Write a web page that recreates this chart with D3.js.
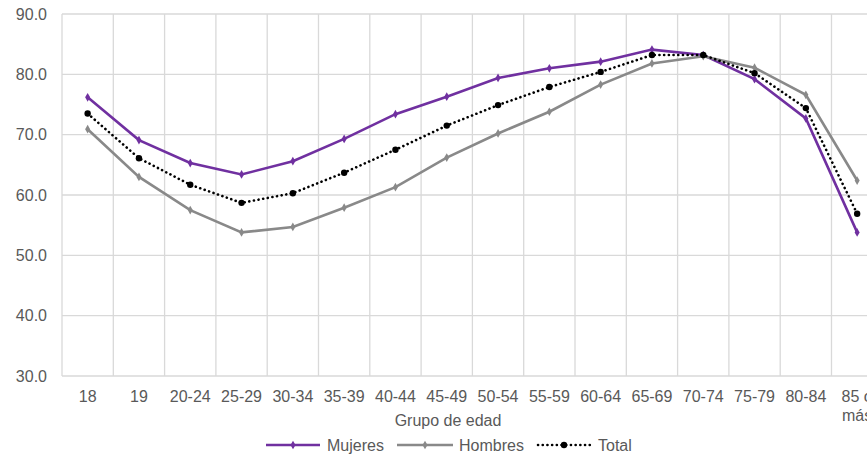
<!DOCTYPE html>
<html><head><meta charset="utf-8">
<script src="https://cdn.jsdelivr.net/npm/d3@7"></script>
<style>html,body{margin:0;padding:0;background:#fff;overflow:hidden}</style>
</head><body>
<script>
const categories = ["18","19","20-24","25-29","30-34","35-39","40-44","45-49","50-54","55-59","60-64","65-69","70-74","75-79","80-84","85 o más"];
const mujeres = [76.2,69.1,65.3,63.4,65.6,69.3,73.4,76.3,79.4,81.0,82.1,84.1,83.2,79.2,72.7,53.8];
const hombres = [70.9,63.0,57.5,53.8,54.7,57.9,61.3,66.2,70.2,73.8,78.3,81.8,83.0,81.1,76.6,62.4];
const total   = [73.5,66.1,61.7,58.7,60.3,63.7,67.5,71.5,74.9,77.9,80.4,83.2,83.2,80.2,74.4,56.9];
const yTicks = [30,40,50,60,70,80,90];
const seriesNames = ["Mujeres","Hombres","Total"];

const W = 867, H = 455;
const plotLeft = 62, plotTop = 14, plotBottom = 376, step = 51.3;
const svg = d3.select("body").append("svg").attr("width", W).attr("height", H)
  .style("font-family", "'Liberation Sans', Arial, sans-serif");

const x = d3.scaleBand().domain(categories).range([plotLeft, plotLeft + step*categories.length]).padding(0);
const y = d3.scaleLinear().domain([30,90]).range([plotBottom, plotTop]);
const grid = "#d9d9d9", txt = "#595959";

// horizontal gridlines
svg.append("g").selectAll("line").data(yTicks).join("line")
  .attr("x1", plotLeft).attr("x2", W + 40).attr("y1", d => y(d)).attr("y2", d => y(d))
  .attr("stroke", grid).attr("stroke-width", 1.3);
// vertical gridlines at band boundaries
const bounds = categories.map(c => x(c)).concat([x(categories[categories.length-1]) + x.bandwidth()]);
svg.append("g").selectAll("line").data(bounds).join("line")
  .attr("x1", d => d).attr("x2", d => d).attr("y1", plotTop).attr("y2", plotBottom)
  .attr("stroke", grid).attr("stroke-width", 1.3);

// y labels
svg.append("g").selectAll("text").data(yTicks).join("text")
  .attr("x", 47).attr("y", d => y(d)).attr("dy", "0.35em").attr("text-anchor", "end")
  .attr("fill", txt).style("font-size", "16px").text(d => d.toFixed(1));

// x labels
const xl = svg.append("g").selectAll("text").data(categories).join("text")
  .attr("x", d => x(d) + x.bandwidth()/2).attr("y", 402).attr("text-anchor", "middle")
  .attr("fill", txt).style("font-size", "16px");
xl.each(function(d){
  const t = d3.select(this);
  if (d === "85 o más") {
    t.append("tspan").attr("x", x(d)+x.bandwidth()/2).text("85 o");
    t.append("tspan").attr("x", x(d)+x.bandwidth()/2).attr("dy", 19).text("más");
  } else t.text(d);
});

svg.append("text").attr("x", 448).attr("y", 426).attr("text-anchor","middle")
  .attr("fill", txt).style("font-size","16px").text("Grupo de edad");

const cx = (d,i) => x(categories[i]) + x.bandwidth()/2;
const line = d3.line().x((d,i)=>cx(d,i)).y(d=>y(d));
const series = [
  {name:seriesNames[0], data:mujeres, color:"#7030A0", dash:null, marker:"diamond"},
  {name:seriesNames[1], data:hombres, color:"#898989", dash:null, marker:"diamond"},
  {name:seriesNames[2], data:total, color:"#000000", dash:"0.1,4.6", marker:"circle"}
];
const diamond = d3.symbol().type(d3.symbolDiamond).size(22);
series.forEach(s => {
  svg.append("path").datum(s.data).attr("d", line).attr("fill","none")
    .attr("stroke", s.color).attr("stroke-width", 2.6)
    .attr("stroke-linecap", s.dash ? "round" : "butt")
    .attr("stroke-dasharray", s.dash);
  const g = svg.append("g");
  if (s.marker === "circle") {
    g.selectAll("circle").data(s.data).join("circle")
      .attr("cx",(d,i)=>cx(d,i)).attr("cy", d=>y(d)).attr("r", 3.2).attr("fill", s.color);
  } else {
    g.selectAll("path").data(s.data).join("path")
      .attr("d", diamond).attr("transform",(d,i)=>`translate(${cx(d,i)},${y(d)})`).attr("fill", s.color);
  }
});

// legend
const legendItems = [
  {s:series[0], x1:266, x2:320, tx:327},
  {s:series[1], x1:397, x2:453, tx:459},
  {s:series[2], x1:538, x2:590, tx:598}
];
const ly = 445;
legendItems.forEach(it => {
  svg.append("line").attr("x1", it.x1).attr("x2", it.x2).attr("y1", ly).attr("y2", ly)
    .attr("stroke", it.s.color).attr("stroke-width", 2.6)
    .attr("stroke-linecap", it.s.dash ? "round" : "butt")
    .attr("stroke-dasharray", it.s.dash);
  const mx = (it.x1+it.x2)/2;
  if (it.s.marker === "circle") svg.append("circle").attr("cx", mx).attr("cy", ly).attr("r", 3.2).attr("fill", it.s.color);
  else svg.append("path").attr("d", diamond).attr("transform", `translate(${mx},${ly})`).attr("fill", it.s.color);
  svg.append("text").attr("x", it.tx).attr("y", ly).attr("dy","0.35em").attr("fill", txt)
    .style("font-size","16px").text(it.s.name);
});
</script>
</body></html>
